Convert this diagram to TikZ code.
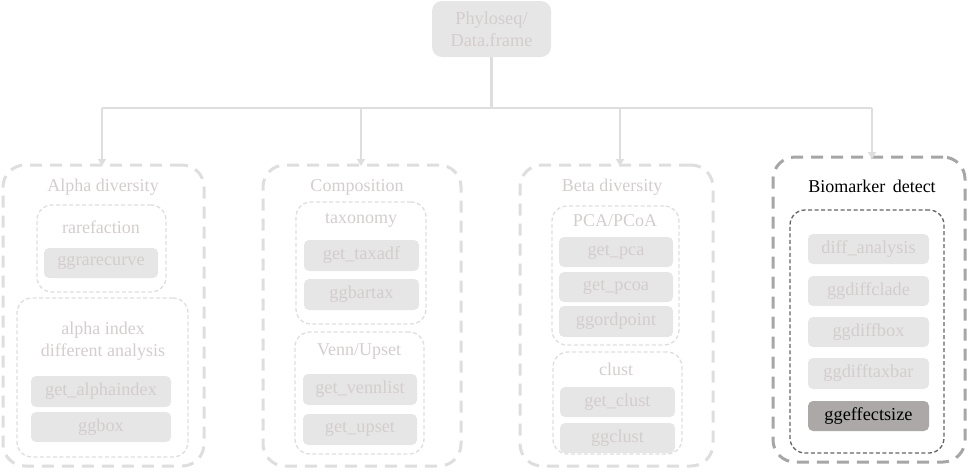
\documentclass[tikz,border=0pt]{standalone}
\usepackage{fontspec}
\setmainfont{Liberation Serif}
\usetikzlibrary{arrows.meta}
\definecolor{boxfill}{RGB}{230,230,230}
\definecolor{txt}{RGB}{212,205,205}
\definecolor{lineclr}{RGB}{222,222,222}
\definecolor{biooutline}{RGB}{166,166,166}
\definecolor{bioinner}{RGB}{100,100,100}
\definecolor{darkfill}{RGB}{172,168,168}
\tikzset{
  fnbox/.style={fill=boxfill, rounded corners=5pt, text=txt, inner sep=0pt,
    font=\fontsize{18.3}{22}\selectfont},
  ttl/.style={text=txt, inner sep=0pt, align=center, font=\fontsize{18}{22}\selectfont},
  grp/.style={draw=lineclr, line width=3pt, dash pattern=on 12pt off 8pt, rounded corners=22pt},
  sub/.style={draw=lineclr, line width=1.3pt, dash pattern=on 4pt off 2.5pt, rounded corners=15pt},
  conn/.style={draw=lineclr, line width=2.5pt},
  arr/.style={conn, -{Triangle[length=7pt,width=8pt]}},
}
\newcommand{\bx}[6]{% name, x1, y1, x2, y2, style
  \node[#6, minimum width={#4-#2}, minimum height={#5-#3}] (#1) at ({(#2+#4)/2},{(#3+#5)/2}) {};}
\newcommand{\fn}[7]{% name, x1,y1,x2,y2, style, text
  \node[#6, minimum width={#4-#2}, minimum height={#5-#3}] (#1) at ({(#2+#4)/2},{(#3+#5)/2}) {#7};}
\begin{document}
\begin{tikzpicture}[x=1pt,y=-1pt]
\useasboundingbox (0,0) rectangle (979,475);
% top node
\fn{top}{432}{1}{551}{57}{fnbox, rounded corners=10pt, align=center}{Phyloseq/\\Data.frame}
% group boxes
\bx{alpha}{3}{165}{204}{466}{grp}
\bx{comp}{263}{165}{461}{466}{grp}
\bx{beta}{520}{165}{713}{466}{grp}
\bx{bio}{773}{157}{965}{462}{grp, draw=biooutline}
% connectors
\coordinate (busL) at (102,108);
\coordinate (busR) at (872,108);
\draw[conn] (top.south) -- (top.south |- busL);
\draw[conn] (busL) -- (busR);
\coordinate (aA) at (102,166);
\coordinate (aC) at (361,166);
\coordinate (aB) at (620,166);
\coordinate (aD) at (872,159);
\draw[arr] (busL) -- (aA);
\draw[arr] (aC |- busL) -- (aC);
\draw[arr] (aB |- busL) -- (aB);
\draw[arr] (busR) -- (aD);
% titles
\node[ttl] (tA) at (103,187) {Alpha diversity};
\node[ttl] (tC) at (357,187) {Composition};
\node[ttl] (tB) at (612,187) {Beta diversity};
\node[ttl, text=black] (tD) at (872,186) {Biomarker\ \,detect};
% Alpha
\bx{rare}{37}{205}{166}{292}{sub}
\node[ttl] (trare) at (101,227) {rarefaction};
\fn{ggrare}{44}{248}{158}{278}{fnbox}{ggrarecurve}
\bx{aidx}{17}{298}{188}{457}{sub}
\node[ttl] (taidx) at (103,341) {alpha index\\different analysis};
\fn{getai}{31}{376}{171}{407}{fnbox}{get\_alphaindex}
\fn{ggbox}{31}{412}{171}{442}{fnbox}{ggbox}
% Composition
\bx{tax}{296}{202}{426}{324}{sub}
\node[ttl] (ttax) at (361,220) {taxonomy};
\fn{gtax}{304}{240}{419}{271}{fnbox}{get\_taxadf}
\fn{ggbt}{304}{279}{419}{310}{fnbox}{ggbartax}
\bx{venn}{295}{332}{424}{454}{sub}
\node[ttl] (tvenn) at (359,351) {Venn/Upset};
\fn{gvl}{303}{374}{417}{405}{fnbox}{get\_vennlist}
\fn{gup}{303}{414}{417}{445}{fnbox}{get\_upset}
% Beta
\bx{pca}{552}{206}{679}{345}{sub}
\node[ttl] (tpca) at (615,221) {PCA/PCoA};
\fn{gpca}{559}{237}{673}{267}{fnbox}{get\_pca}
\fn{gpcoa}{559}{272}{673}{302}{fnbox}{get\_pcoa}
\fn{ggord}{559}{306}{673}{337}{fnbox}{ggordpoint}
\bx{clust}{553}{352}{682}{454}{sub}
\node[ttl] (tclust) at (616,369) {clust};
\fn{gcl}{560}{387}{675}{417}{fnbox}{get\_clust}
\fn{ggcl}{560}{423}{675}{453}{fnbox}{ggclust}
% Biomarker
\bx{bioin}{790}{210}{944}{453}{sub, draw=bioinner}
\fn{da}{808}{234}{929}{264}{fnbox}{diff\_analysis}
\fn{gdc}{808}{276}{929}{306}{fnbox}{ggdiffclade}
\fn{gdb}{808}{317}{929}{347}{fnbox}{ggdiffbox}
\fn{gdt}{808}{358}{929}{389}{fnbox}{ggdifftaxbar}
\fn{ges}{808}{401}{929}{431}{fnbox, fill=darkfill, text=black}{ggeffectsize}
\end{tikzpicture}
\end{document}
